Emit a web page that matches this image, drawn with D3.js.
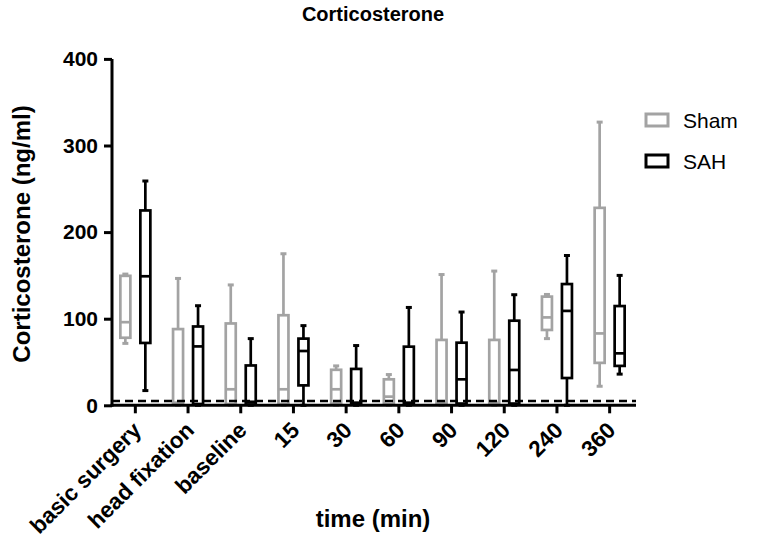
<!DOCTYPE html>
<html><head><meta charset="utf-8">
<script src="https://cdn.jsdelivr.net/npm/d3@7"></script>
<style>body{margin:0;background:#fff}svg{display:block}text{font-family:"Liberation Sans",Arial,sans-serif}</style>
</head><body><svg id="c" width="758" height="542"></svg>
<script>
const categories = ["basic surgery","head fixation","baseline","15","30","60","90","120","240","360"];
const shamMin = [71.5, 0, 0, 0, 0, 0, 0, 0, 77, 22];
const shamQ1  = [78, 1.5, 1.5, 1.5, 2, 1.5, 1.5, 1.5, 87, 49];
const shamMed = [96, 3, 18.5, 18.5, 18.5, 10, 3, 3, 101.5, 83];
const shamQ3  = [149.5, 88, 94.5, 104, 41, 30, 75.5, 75.5, 125.5, 228];
const shamMax = [151.5, 146.5, 139, 175, 45.5, 35.5, 151, 155, 128, 327];
const sahMin = [17, 0, 0, 0, 0, 0, 0, 0, 0, 36];
const sahQ1  = [72, 1.5, 1, 23, 1.5, 1.5, 2, 2, 31.5, 45.5];
const sahMed = [149, 68, 4, 62.7, 3, 3, 30, 40.8, 109, 60];
const sahQ3  = [225, 91, 46, 77, 42, 67.7, 72.3, 97.7, 140, 114.6];
const sahMax = [259, 115, 77, 92, 69, 113, 107.7, 127.7, 173, 150];
const yTicks = [0, 100, 200, 300, 400];
const detectionLimit = 5;
const seriesNames = ["Sham", "SAH"];
const seriesColors = ["#a3a3a3", "#000000"];

const svg = d3.select("#c");
const x = d3.scaleBand().domain(categories).range([109, 636]);
const y = d3.scaleLinear().domain([0, 400]).range([405.3, 58.9]);
const font = '"Liberation Sans",Arial,sans-serif';

const series = [
  {name: seriesNames[0], color: seriesColors[0], off: -10, min: shamMin, q1: shamQ1, med: shamMed, q3: shamQ3, max: shamMax},
  {name: seriesNames[1], color: seriesColors[1], off: 10, min: sahMin, q1: sahQ1, med: sahMed, q3: sahQ3, max: sahMax}
];

series.forEach(s => {
  const g = svg.append("g");
  categories.forEach((c, i) => {
    const cx = x(c) + x.bandwidth() / 2 + s.off;
    const bw = 10, cap = 6;
    const gg = g.append("g").attr("stroke", s.color).attr("fill", "none").attr("stroke-width", 2.7);
    gg.append("line").attr("x1", cx).attr("x2", cx).attr("y1", y(s.max[i])).attr("y2", y(s.q3[i]));
    gg.append("line").attr("x1", cx).attr("x2", cx).attr("y1", y(s.q1[i])).attr("y2", y(s.min[i]));
    gg.append("line").attr("x1", cx - cap/2).attr("x2", cx + cap/2).attr("y1", y(s.max[i])).attr("y2", y(s.max[i])).attr("stroke-width", 3);
    gg.append("line").attr("x1", cx - cap/2).attr("x2", cx + cap/2).attr("y1", y(s.min[i])).attr("y2", y(s.min[i])).attr("stroke-width", 3);
    gg.append("rect").attr("x", cx - bw/2).attr("width", bw).attr("y", y(s.q3[i])).attr("height", y(s.q1[i]) - y(s.q3[i])).attr("fill", "#fff");
    gg.append("line").attr("x1", cx - bw/2).attr("x2", cx + bw/2).attr("y1", y(s.med[i])).attr("y2", y(s.med[i]));
  });
});

svg.append("line").attr("x1", 112).attr("x2", 636).attr("y1", y(detectionLimit)).attr("y2", y(detectionLimit))
  .attr("stroke", "#000").attr("stroke-width", 2.6).attr("stroke-dasharray", "8,5");

const ya = svg.append("g").attr("transform", "translate(112,0)")
  .call(d3.axisLeft(y).tickValues(yTicks).tickSize(8).tickPadding(6).tickSizeOuter(0));
ya.select(".domain").attr("stroke-width", 3).attr("d", `M0,${y(0)+1.5}V${y(400)}`);
ya.selectAll(".tick line").attr("stroke-width", 3);
ya.selectAll(".tick text").attr("font-family", font).attr("font-weight", "bold").attr("font-size", 21).attr("fill", "#000");

const xa = svg.append("g").attr("transform", `translate(0,${y(0)})`)
  .call(d3.axisBottom(x).tickSize(8).tickSizeOuter(0));
xa.select(".domain").attr("stroke-width", 3).attr("d", `M110.5,0H636`);
xa.selectAll(".tick line").attr("stroke-width", 3);
xa.selectAll(".tick text").attr("font-family", font).attr("font-weight", "bold").attr("font-size", 22.5).attr("fill", "#000")
  .attr("text-anchor", "end").attr("transform", "translate(-4,15) rotate(-45)").attr("dy", "0.71em").attr("y", 0).attr("x", 0);

svg.append("text").attr("x", 373).attr("y", 21).attr("text-anchor", "middle").attr("font-weight", "bold").attr("font-size", 20).text("Corticosterone");
svg.append("text").attr("x", 373).attr("y", 527).attr("text-anchor", "middle").attr("font-weight", "bold").attr("font-size", 24).text("time (min)");
svg.append("text").attr("transform", "translate(30,234) rotate(-90)").attr("text-anchor", "middle").attr("font-weight", "bold").attr("font-size", 24).text("Corticosterone (ng/ml)");

series.forEach((s, i) => {
  const ly = 120 + i * 41;
  svg.append("rect").attr("x", 646).attr("y", ly - 6).attr("width", 22).attr("height", 12)
    .attr("fill", "#fff").attr("stroke", s.color).attr("stroke-width", 3);
  svg.append("text").attr("x", 683).attr("y", ly + 8).attr("font-size", 21).attr("fill", "#000").text(s.name);
});
</script></body></html>
